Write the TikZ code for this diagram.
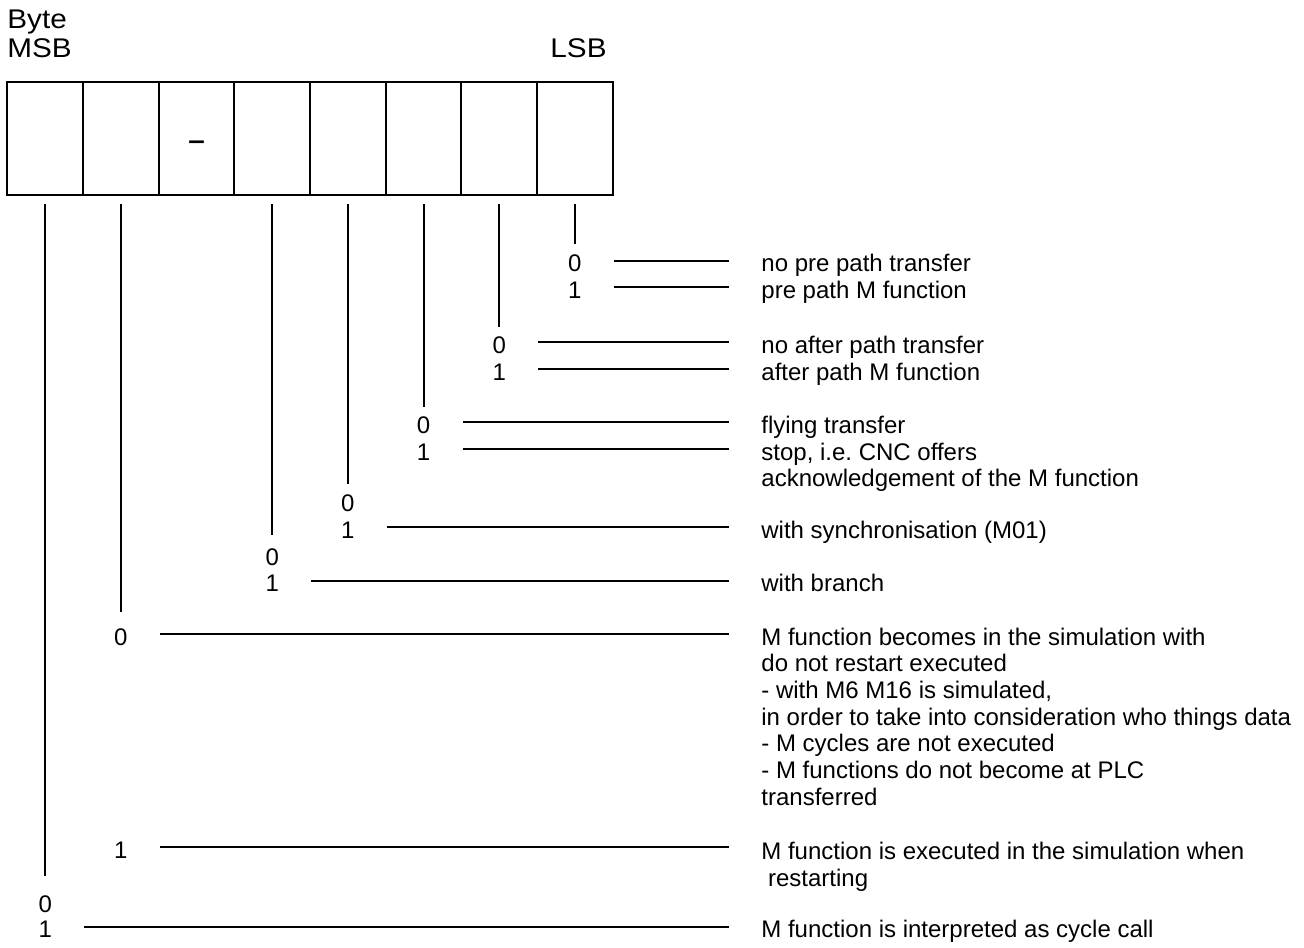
\documentclass[tikz,border=0pt]{standalone}
\usepackage{fontspec}
\setmainfont{Liberation Sans}
\newfontfamily\headfamily[FakeStretch=1.1,Ligatures=TeX]{Liberation Sans}
\usetikzlibrary{positioning}
\newcommand\descsize{\fontsize{12}{13.35}\selectfont}
\newcommand\headsize{\headfamily\fontsize{13.5}{14.7}\selectfont}

\begin{document}
\frenchspacing
\begin{tikzpicture}[
    x=0.5pt, y=-0.5pt,
    cell/.style={draw, line width=1pt, minimum width=37.83pt, minimum height=56.5pt, inner sep=0pt},
    head/.style={font=\headsize, inner sep=0pt, anchor=base west},
    bitval/.style={font=\descsize, inner sep=0pt, text height=11pt, text depth=0pt, anchor=base},
    desc/.style={font=\descsize, inner sep=0pt, anchor=base west, align=left},
    stem/.style={line width=1pt, shorten <=4pt},
    lead/.style={line width=1pt, shorten <=16pt, shorten >=16pt}
  ]
    \useasboundingbox (0,0) rectangle (1304,947);

    \node[head] (byte) at (7,28.3) {Byte};
    \node[head] (msb) at (7,57.7) {MSB};
    \node[head, anchor=base east] (lsb) at (607,57.7) {LSB};

    \foreach \b in {0,...,7} {
      \node[cell] (c\b) at (574.85-75.66*\b,138.5) {};
    }
    \node[font=\headsize\bfseries, inner sep=0pt] (dash) at ([yshift=-3.5pt]c5.center) {\textendash};

    \foreach \b/\y in {0/244.3, 1/326.7, 2/406.7, 3/484, 4/535, 6/611.7, 7/876} {
      \coordinate (e\b) at (c\b.south |- 0,\y);
      \draw[stem] (c\b.south) -- (e\b);
    }

    \node[bitval] (v0a) at (c0.south |- 0,271.5) {0};
    \node[bitval] (v0b) at (c0.south |- 0,298.3) {1};
    \node[bitval] (v1a) at (c1.south |- 0,353.3) {0};
    \node[bitval] (v1b) at (c1.south |- 0,380) {1};
    \node[bitval] (v2a) at (c2.south |- 0,433.3) {0};
    \node[bitval] (v2b) at (c2.south |- 0,460) {1};
    \node[bitval] (v3a) at (c3.south |- 0,511.7) {0};
    \node[bitval] (v3b) at (c3.south |- 0,538.3) {1};
    \node[bitval] (v4a) at (c4.south |- 0,565) {0};
    \node[bitval] (v4b) at (c4.south |- 0,591.5) {1};
    \node[bitval] (v6a) at (c6.south |- 0,645) {0};
    \node[bitval] (v6b) at (c6.south |- 0,858.3) {1};
    \node[bitval] (v7a) at (c7.south |- 0,912.7) {0};
    \node[bitval] (v7b) at (c7.south |- 0,937.5) {1};

    % multi-line nodes sit on the baseline of their last line
    \node[desc] (t0a) at (761,271.5) {no pre path transfer};
    \node[desc] (t0b) at (761,298.3) {pre path M function};
    \node[desc] (t1a) at (761,353.3) {no after path transfer};
    \node[desc] (t1b) at (761,380) {after path M function};
    \node[desc] (t2a) at (761,433.3) {flying transfer};
    \node[desc] (t2b) at (761,486.7) {stop, i.e. CNC offers\\acknowledgement of the M function};
    \node[desc] (t3b) at (761,538.3) {with synchronisation (M01)};
    \node[desc] (t4b) at (761,591.5) {with branch};
    \node[desc] (t6a) at (761,805.2) {M function becomes in the simulation with\\do not restart executed\\- with M6 M16 is simulated,\\in order to take into consideration who things data\\- M cycles are not executed\\- M functions do not become at PLC\\transferred};
    \node[desc] (t6b) at (761,886) {M function is executed in the simulation when\\\ restarting};
    \node[desc] (t7b) at (761,937.3) {M function is interpreted as cycle call};

    \foreach \n in {0a,0b,1a,1b,2a,2b,3b,4b,6a,6b,7b} {
      \draw[lead] (v\n.east) -- (v\n.east -| t\n.west);
    }
  \end{tikzpicture}
\end{document}
